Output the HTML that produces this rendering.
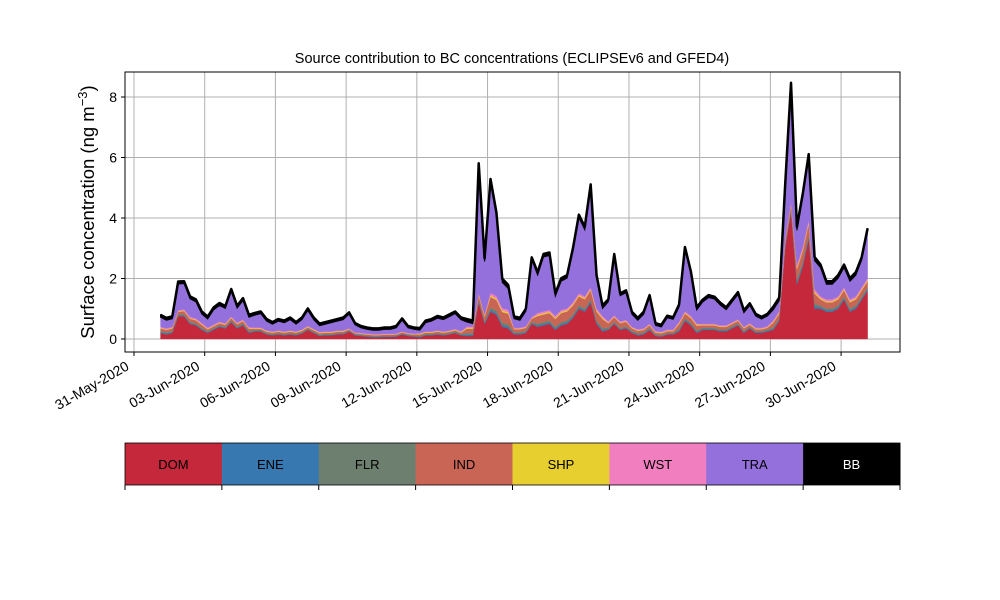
<!DOCTYPE html>
<html><head><meta charset="utf-8"><style>
body{margin:0;background:#fff;}
svg{display:block;font-family:"Liberation Sans","DejaVu Sans",sans-serif;}
</style></head><body>
<svg id="chart" width="1000" height="600" viewBox="0 0 1000 600">
<rect width="1000" height="600" fill="#fff"/>
<g id="grid"></g>
<g id="areas"></g>
<g id="axes"></g>
<text x="512" y="63" text-anchor="middle" font-size="14.5">Source contribution to BC concentrations (ECLIPSEv6 and GFED4)</text>
<text transform="translate(94,212) rotate(-90)" text-anchor="middle" font-size="18.5">Surface concentration (ng m<tspan dy="-7" font-size="13">−3</tspan><tspan dy="7">)</tspan></text>
<g id="colorbar"></g>
</svg>
<script>
const dom=[0.2,0.15,0.2,0.75,0.75,0.5,0.45,0.3,0.2,0.3,0.4,0.35,0.55,0.35,0.45,0.2,0.25,0.25,0.15,0.12,0.15,0.12,0.15,0.12,0.18,0.3,0.2,0.1,0.12,0.12,0.15,0.15,0.25,0.12,0.1,0.08,0.06,0.06,0.07,0.07,0.08,0.15,0.1,0.08,0.06,0.12,0.12,0.15,0.12,0.15,0.2,0.12,0.1,0.1,1.2,0.5,0.9,0.8,0.4,0.35,0.15,0.15,0.2,0.5,0.4,0.45,0.5,0.3,0.45,0.5,0.7,1.0,0.9,1.2,0.5,0.25,0.3,0.5,0.3,0.35,0.2,0.12,0.15,0.3,0.1,0.08,0.15,0.15,0.25,0.6,0.45,0.2,0.3,0.3,0.3,0.25,0.25,0.35,0.45,0.2,0.35,0.2,0.2,0.25,0.3,0.6,3.0,4.2,1.8,2.4,3.3,1.0,1.0,0.9,0.9,1.0,1.3,0.9,1.0,1.3,1.6];
const tra=[0.32,0.27,0.27,0.87,0.85,0.6,0.55,0.3,0.29,0.49,0.54,0.49,0.83,0.48,0.63,0.33,0.41,0.46,0.31,0.24,0.31,0.29,0.36,0.24,0.33,0.51,0.31,0.21,0.24,0.29,0.31,0.36,0.47,0.25,0.17,0.14,0.13,0.13,0.15,0.15,0.19,0.37,0.17,0.14,0.1,0.29,0.34,0.41,0.39,0.46,0.51,0.39,0.15,0.1,4.2,1.75,3.65,2.65,0.85,0.7,0.3,0.25,0.5,1.9,1.25,1.8,1.8,0.65,0.95,1.0,1.7,2.5,2.2,3.3,1.0,0.25,0.65,1.95,0.85,0.9,0.42,0.3,0.47,0.87,0.19,0.16,0.39,0.34,0.5,2.05,1.4,0.45,0.72,0.87,0.82,0.67,0.52,0.67,0.82,0.47,0.59,0.39,0.29,0.34,0.35,0.35,1.65,3.85,1.15,1.65,2.05,0.95,0.95,0.5,0.5,0.6,0.65,0.6,0.7,0.9,1.55];
// daily values for minor sectors (31 days)
const ind=[0.08,0.1,0.06,0.07,0.04,0.04,0.04,0.04,0.03,0.03,0.03,0.04,0.04,0.15,0.35,0.1,0.25,0.3,0.3,0.15,0.08,0.06,0.15,0.08,0.08,0.06,0.15,0.35,0.2,0.2,0.2];
const ene=[0.03,0.03,0.03,0.03,0.02,0.02,0.02,0.02,0.02,0.02,0.02,0.02,0.02,0.04,0.06,0.03,0.05,0.05,0.05,0.03,0.03,0.02,0.04,0.03,0.03,0.03,0.04,0.08,0.05,0.05,0.05];
const flr=[0.04,0.04,0.03,0.04,0.03,0.03,0.03,0.03,0.02,0.02,0.02,0.03,0.03,0.05,0.08,0.04,0.06,0.06,0.06,0.04,0.04,0.03,0.05,0.04,0.04,0.03,0.05,0.08,0.06,0.06,0.06];
const shp=[0.02,0.02,0.02,0.02,0.02,0.02,0.02,0.02,0.01,0.01,0.01,0.02,0.02,0.03,0.05,0.02,0.04,0.04,0.04,0.02,0.02,0.02,0.03,0.02,0.02,0.02,0.03,0.05,0.04,0.04,0.04];
const wst=[0.03,0.04,0.03,0.03,0.02,0.02,0.02,0.02,0.02,0.02,0.02,0.02,0.02,0.04,0.08,0.03,0.06,0.06,0.06,0.04,0.03,0.03,0.04,0.03,0.03,0.03,0.05,0.08,0.06,0.06,0.06];
const bb=[0.08,0.08,0.08,0.08,0.07,0.07,0.07,0.07,0.06,0.06,0.06,0.07,0.07,0.1,0.12,0.08,0.1,0.1,0.1,0.08,0.08,0.07,0.08,0.08,0.08,0.07,0.1,0.12,0.1,0.1,0.1];
const yTicks=[0,2,4,6,8];
const xTickDays=[0,3,6,9,12,15,18,21,24,27,30];
const xTickLabels=["31-May-2020","03-Jun-2020","06-Jun-2020","09-Jun-2020","12-Jun-2020","15-Jun-2020","18-Jun-2020","21-Jun-2020","24-Jun-2020","27-Jun-2020","30-Jun-2020"];
const sectors=["DOM","ENE","FLR","IND","SHP","WST","TRA","BB"];
const colors=["#c4283a","#3878b0","#6d8070","#c96555","#e6cf2e","#f17fbf","#9370db","#000000"];

const NS="http://www.w3.org/2000/svg";
const L=125,R=900,T=72,B=352;
const X=t=>134+23.57*t;          // t = days since 31-May 00:00
const Y=v=>339-30.25*v;
const tOf=i=>1.125+0.25*i;
function mk(tag,attrs,parent){const e=document.createElementNS(NS,tag);for(const k in attrs)e.setAttribute(k,attrs[k]);parent.appendChild(e);return e;}
const grid=document.getElementById('grid'),areas=document.getElementById('areas'),axes=document.getElementById('axes'),cb=document.getElementById('colorbar');

yTicks.forEach(v=>{
  const l=mk('line',{x1:L,x2:R,y1:Y(v),y2:Y(v),stroke:'#b0b0b0','stroke-width':1},grid);
  
  
  mk('line',{x1:L-4,x2:L,y1:Y(v),y2:Y(v),stroke:'#000'},axes);
  const t=mk('text',{x:L-8,y:Y(v)+5,'text-anchor':'end','font-size':14},axes);
  t.textContent=v;
  
  
});
xTickDays.forEach((d,k)=>{
  const l=mk('line',{x1:X(d),x2:X(d),y1:T,y2:B,stroke:'#b0b0b0','stroke-width':1},grid);
  
  
  mk('line',{x1:X(d),x2:X(d),y1:B,y2:B+4,stroke:'#000'},axes);
  const tx=X(d)-4,ty=B+17;
  const t=mk('text',{x:tx,y:ty,'text-anchor':'end','font-size':14,transform:`rotate(-30 ${tx} ${ty})`},axes);
  t.textContent=xTickLabels[k];
  
  
});

const n=dom.length;
function val(s,i){const d=Math.min(30,Math.floor(i/4));
  switch(s){case 0:return dom[i];case 1:return ene[d];case 2:return flr[d];case 3:return ind[d];case 4:return shp[d];case 5:return wst[d];case 6:return tra[i];case 7:return bb[d];}}
let base=new Array(n).fill(0);
for(let s=0;s<8;s++){
  const top=base.map((b,i)=>b+val(s,i));
  let d='M'+X(tOf(0))+','+Y(top[0]);
  for(let i=1;i<n;i++)d+='L'+X(tOf(i)).toFixed(2)+','+Y(top[i]).toFixed(2);
  for(let i=n-1;i>=0;i--)d+='L'+X(tOf(i)).toFixed(2)+','+Y(base[i]).toFixed(2);
  d+='Z';
  const p=mk('path',{d:d,fill:colors[s],stroke:colors[s],'stroke-width':s===7?1:0.3},areas);
  
  
  if(s===7){
    let ld='M'+X(tOf(0))+','+Y(top[0]);
    for(let i=1;i<n;i++)ld+='L'+X(tOf(i)).toFixed(2)+','+Y(top[i]).toFixed(2);
    const ln=mk('path',{d:ld,fill:'none',stroke:'#000','stroke-width':2.5,'stroke-linejoin':'round'},areas);
    
    
  }
  base=top;
}
mk('rect',{x:L,y:T,width:R-L,height:B-T,fill:'none',stroke:'#000','stroke-width':1},axes);

const cw=(R-L)/8;
sectors.forEach((s,k)=>{
  const r=mk('rect',{x:L+k*cw,y:443,width:cw+0.5,height:42,fill:colors[k]},cb);
  
  
  const t=mk('text',{x:L+k*cw+cw/2,y:469,'text-anchor':'middle','font-size':13,fill:s==='BB'?'#fff':'#000'},cb);
  t.textContent=s;
  
  
});
for(let k=0;k<=8;k++)mk('line',{x1:L+k*cw,x2:L+k*cw,y1:485,y2:490,stroke:'#000'},cb);
mk('rect',{x:L,y:443,width:R-L,height:42,fill:'none',stroke:'#000','stroke-width':0.8},cb);
</script>
</body></html>
